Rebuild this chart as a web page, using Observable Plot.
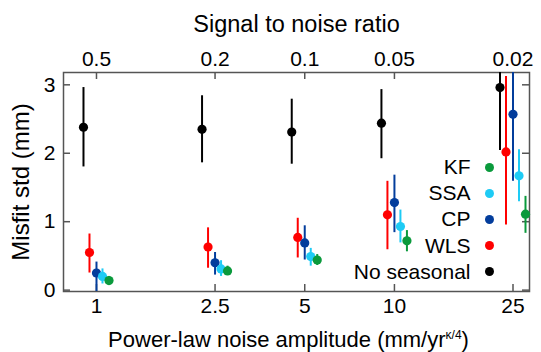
<!DOCTYPE html>
<html><head><meta charset="utf-8">
<script src="https://cdn.jsdelivr.net/npm/d3@7"></script>
<script src="https://cdn.jsdelivr.net/npm/@observablehq/plot@0.6"></script>
<style>
body{margin:0;background:#fff;}
#wrap{position:relative;width:541px;height:352px;font-family:"Liberation Sans",Arial,sans-serif;}
#legend{position:absolute;left:300px;top:154px;width:196px;}
.li{display:flex;align-items:center;justify-content:flex-end;height:26.2px;font-size:21px;color:#000;}
.li span.sw{display:inline-block;width:9px;height:9px;border-radius:50%;margin-left:14px;margin-right:2.5px;}
</style></head><body><div id="wrap"></div>
<script>
// Categories / tick labels
const amplitudes = [1, 2.5, 5, 10, 25];
const snrLabels = ["0.5", "0.2", "0.1", "0.05", "0.02"];
const yTicks = [0, 1, 2, 3];
const seriesNames = ["No seasonal", "WLS", "CP", "SSA", "KF"];
const legendOrder = ["KF", "SSA", "CP", "WLS", "No seasonal"];

// Series values (mean, lower, upper) per amplitude
const noSeasonalMean = [2.38, 2.35, 2.31, 2.44, 2.96];
const noSeasonalLow  = [1.80, 1.86, 1.84, 1.92, 2.04];
const noSeasonalHigh = [2.96, 2.84, 2.79, 2.93, 3.40];

const wlsMean = [0.55, 0.63, 0.77, 1.10, 2.02];
const wlsLow  = [0.25, 0.32, 0.47, 0.59, 0.95];
const wlsHigh = [0.82, 0.91, 1.05, 1.59, 3.12];

const cpMean = [0.25, 0.40, 0.69, 1.28, 2.57];
const cpLow  = [-0.02, 0.22, 0.44, 0.84, 1.59];
const cpHigh = [0.41, 0.55, 0.94, 1.68, 3.50];

const ssaMean = [0.20, 0.31, 0.49, 0.93, 1.67];
const ssaLow  = [0.09, 0.20, 0.35, 0.69, 1.29];
const ssaHigh = [0.31, 0.43, 0.61, 1.17, 2.05];

const kfMean = [0.14, 0.28, 0.44, 0.72, 1.11];
const kfLow  = [0.09, 0.22, 0.36, 0.56, 0.83];
const kfHigh = [0.20, 0.35, 0.52, 0.87, 1.37];

// Styles
const colors = {"No seasonal": "#000000", "WLS": "#ff0000", "CP": "#033d9c", "SSA": "#1ecbf5", "KF": "#0a9a3c"};
const offsets = {"No seasonal": -13, "WLS": -7, "CP": 0, "SSA": 6, "KF": 12.5};

const seriesData = {
  "No seasonal": [noSeasonalMean, noSeasonalLow, noSeasonalHigh],
  "WLS": [wlsMean, wlsLow, wlsHigh],
  "CP": [cpMean, cpLow, cpHigh],
  "SSA": [ssaMean, ssaLow, ssaHigh],
  "KF": [kfMean, kfLow, kfHigh]
};

const W = 541, H = 352, mT = 72, mB = 61, mL = 63, mR = 12;
const innerW = W - mL - mR, innerH = H - mT - mB;
const tickLen = 7, axisColor = "#555";
const font = "Liberation Sans, Arial, sans-serif";

const marks = [];
for (const name of seriesNames) {
  const [m, lo, hi] = seriesData[name];
  const rows = amplitudes.map((a, i) => ({amp: a, mean: m[i], low: lo[i], high: hi[i]}));
  marks.push(Plot.ruleX(rows, {x: "amp", y1: "low", y2: "high", stroke: colors[name], strokeWidth: 2, dx: offsets[name], clip: true}));
  marks.push(Plot.dot(rows, {x: "amp", y: "mean", r: 4.6, fill: colors[name], stroke: "none", dx: offsets[name]}));
}

const chart = Plot.plot({
  width: W, height: H,
  marginTop: mT, marginBottom: mB, marginLeft: mL, marginRight: mR,
  style: {fontFamily: font, background: "#fff"},
  x: {type: "log", domain: [0.775, 28.4]},
  y: {domain: [-0.02, 3.18]},
  marks: [
    Plot.frame({stroke: axisColor, strokeWidth: 1.5}),
    Plot.tickX(amplitudes, {x: d => d, insetTop: innerH - tickLen, stroke: axisColor, strokeWidth: 1.5}),
    Plot.tickX(amplitudes, {x: d => d, insetBottom: innerH - tickLen, stroke: axisColor, strokeWidth: 1.5}),
    Plot.tickY(yTicks, {y: d => d, insetRight: innerW - tickLen, stroke: axisColor, strokeWidth: 1.5}),
    Plot.tickY(yTicks, {y: d => d, insetLeft: innerW - tickLen, stroke: axisColor, strokeWidth: 1.5}),
    Plot.axisX({anchor: "bottom", ticks: amplitudes, tickSize: 0, tickPadding: 7, tickFormat: d => String(d), fontSize: 21,
      label: "Power-law noise amplitude (mm/yr)", labelAnchor: "center", labelOffset: 55, labelArrow: "none"}),
    Plot.axisX({anchor: "top", ticks: amplitudes, tickSize: 0, tickPadding: 7, tickFormat: d => snrLabels[amplitudes.indexOf(d)], fontSize: 21,
      label: "Signal to noise ratio", labelAnchor: "center", labelOffset: 57, labelArrow: "none"}),
    Plot.axisY({anchor: "left", ticks: yTicks, tickSize: 0, tickPadding: 8, tickFormat: d => String(d), fontSize: 21,
      label: "Misfit std (mm)", labelAnchor: "center", labelOffset: 52, labelArrow: "none"}),
    ...marks
  ]
});

const wrap = document.getElementById("wrap");
wrap.appendChild(chart);

const allText = d3.select(chart).selectAll("text");
// superscript for the x label
allText.filter(function() { return this.textContent.startsWith("Power-law"); })
  .each(function() {
    const t = d3.select(this);
    t.text(null);
    t.attr("font-size", 22).attr("transform", function() { const tr = this.getAttribute("transform") || ""; return tr + " translate(-8,0)"; });
    t.append("tspan").text("Power-law noise amplitude (mm/yr");
    t.append("tspan").attr("dy", -8).attr("font-size", "12px").text("κ/4");
    t.append("tspan").attr("dy", 8).text(")");
  });
allText.filter(function() { return this.textContent === "Signal to noise ratio"; }).attr("font-size", 23.5);
allText.filter(function() { return this.textContent === "Misfit std (mm)"; }).attr("font-size", 24);

// legend
const legend = document.createElement("div");
legend.id = "legend";
for (const name of legendOrder) {
  const row = document.createElement("div");
  row.className = "li";
  row.innerHTML = `<span>${name}</span><span class="sw" style="background:${colors[name]}"></span>`;
  legend.appendChild(row);
}
wrap.appendChild(legend);
</script>
</body></html>
